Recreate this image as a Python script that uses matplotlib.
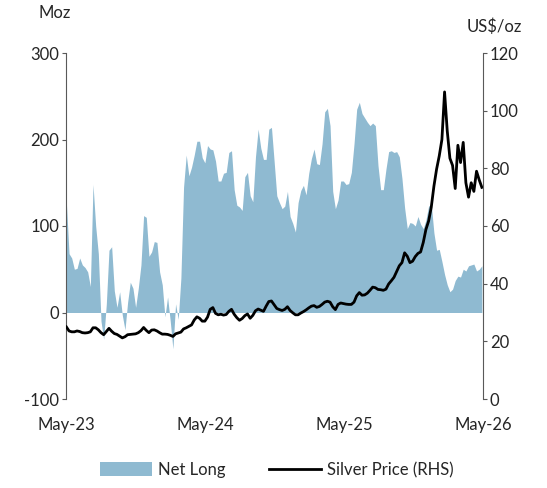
# Silver: COMEX net long positioning vs silver price

import numpy as np
import pandas as pd
import matplotlib
matplotlib.use('Agg')
import matplotlib.pyplot as plt
import matplotlib.dates as mdates
from matplotlib.patches import Patch
from matplotlib.lines import Line2D

plt.rcParams['font.family'] = ['Lato', 'DejaVu Sans']
plt.rcParams['axes.unicode_minus'] = False

# weekly observations, starting early May 2023
dates = pd.date_range('2023-05-02', periods=157, freq='7D')

net_long = [
    127, 68, 63, 50, 51, 63, 55, 52, 47, 30,
    148, 100, 68, -10, -31, 10, 72, 76, 25, 6,
    24, -3, -20, 12, 35, 28, 6, 28, 55, 112,
    110, 65, 70, 82, 81, 47, 32, -5, 18, -10,
    -42, 10, -8, 40, 145, 182, 158, 168, 182, 198,
    198, 179, 173, 193, 189, 188, 175, 152, 152, 161,
    162, 185, 187, 142, 124, 122, 118, 157, 162, 135,
    128, 180, 212, 190, 177, 177, 212, 214, 175, 135,
    127, 120, 123, 140, 111, 103, 93, 127, 141, 147,
    136, 161, 178, 189, 172, 171, 195, 232, 236, 216,
    140, 120, 130, 152, 152, 148, 149, 162, 195, 235,
    243, 230, 225, 220, 216, 219, 216, 170, 142, 142,
    166, 186, 187, 185, 186, 180, 155, 121, 97, 104,
    103, 100, 111, 102, 97, 107, 123, 125, 92, 72,
    73, 59, 44, 32, 24, 27, 37, 42, 41, 50,
    48, 54, 55, 56, 48, 50, 54,
]

silver_price = [
    25.0, 23.6, 23.3, 23.3, 23.6, 23.4, 23.0, 22.9, 23.0, 23.3,
    24.7, 24.7, 24.0, 23.0, 22.3, 23.4, 24.5, 23.5, 22.7, 22.4,
    21.8, 21.2, 21.6, 22.3, 22.4, 22.5, 22.6, 23.0, 23.7, 24.8,
    23.8, 23.0, 23.9, 24.0, 23.6, 23.0, 22.5, 22.5, 22.4, 22.1,
    21.7, 22.6, 22.9, 23.2, 24.3, 24.7, 25.2, 25.7, 27.4, 28.5,
    28.0, 27.0, 27.0, 28.4, 31.1, 31.7, 29.7, 29.2, 29.4, 29.1,
    29.3, 30.4, 31.1, 29.4, 28.2, 27.3, 27.9, 28.9, 29.5, 28.0,
    29.0, 30.6, 31.2, 30.8, 30.4, 32.2, 33.8, 34.0, 32.7, 31.4,
    31.0, 30.7, 31.1, 32.0, 30.7, 29.9, 29.2, 29.2, 29.8, 30.3,
    30.9, 31.6, 32.2, 32.4, 31.8, 32.1, 32.8, 33.6, 33.9, 33.6,
    32.0, 31.0, 32.8, 33.3, 33.1, 32.9, 32.8, 32.8, 33.6, 35.8,
    36.9, 36.0, 36.1, 36.7, 37.7, 38.8, 38.6, 38.0, 37.9, 37.7,
    38.1, 39.9, 41.0, 42.2, 44.2, 46.2, 47.3, 50.7, 49.5, 47.3,
    47.8, 49.4, 50.5, 51.0, 54.3, 58.8, 61.7, 66.5, 73.8, 79.7,
    84.3, 90.0, 106.5, 93.0, 83.5, 81.0, 73.0, 88.0, 82.0, 89.0,
    75.0, 70.0, 75.0, 72.0, 79.0, 76.0, 73.4,
]

tick_dates = pd.to_datetime(['2023-05-01', '2024-05-01', '2025-05-01', '2026-05-01'])

area_col = '#8fbad1'
spine_col = '#595959'
text_col = '#262626'
fs = 12

fig = plt.figure(figsize=(5.47, 4.88), dpi=100)
ax = fig.add_axes([66/547, 89/488, 417/547, 346/488])
ax2 = ax.twinx()

ax.fill_between(dates, net_long, 0, color=area_col, linewidth=0)
ax2.plot(dates, silver_price, color='black', linewidth=2.0)

ax.set_xlim(tick_dates[0], tick_dates[-1])
ax.set_ylim(-100, 300)
ax.set_yticks([-100, 0, 100, 200, 300])
ax2.set_ylim(0, 120)
ax2.set_yticks([0, 20, 40, 60, 80, 100, 120])

ax.set_xticks(tick_dates)
ax.xaxis.set_major_formatter(mdates.DateFormatter('%b-%y'))

for a in (ax, ax2):
    for s in ('top', 'bottom', 'left', 'right'):
        a.spines[s].set_visible(False)
ax.spines['left'].set_visible(True)
ax.spines['left'].set_color(spine_col)
ax2.spines['right'].set_visible(True)
ax2.spines['right'].set_color(spine_col)

ax.tick_params(axis='y', direction='out', length=3, width=0.8, color=spine_col,
               pad=2, labelsize=fs, labelcolor=text_col)
ax.tick_params(axis='x', length=0, pad=13, labelsize=fs, labelcolor=text_col)
ax2.tick_params(axis='y', direction='out', length=3, width=0.8, color=spine_col,
                pad=2, labelsize=fs, labelcolor=text_col)

fig.text(39/547, 1 - 13/488, 'Moz', fontsize=fs, color=text_col, va='center', ha='left')
fig.text(467/547, 1 - 27/488, 'US$/oz', fontsize=fs, color=text_col, va='center', ha='left')

handles = [Patch(facecolor=area_col, edgecolor='none'),
           Line2D([0], [0], color='black', linewidth=2.0)]
fig.legend(handles, ['Net Long', 'Silver Price (RHS)'], loc='center',
           bbox_to_anchor=(277/547, 1 - 470/488), ncol=2, frameon=False,
           fontsize=fs, handlelength=3.1, handleheight=0.9, columnspacing=2.6,
           handletextpad=0.4, labelcolor=text_col)

fig.savefig('out.png', dpi=100)
